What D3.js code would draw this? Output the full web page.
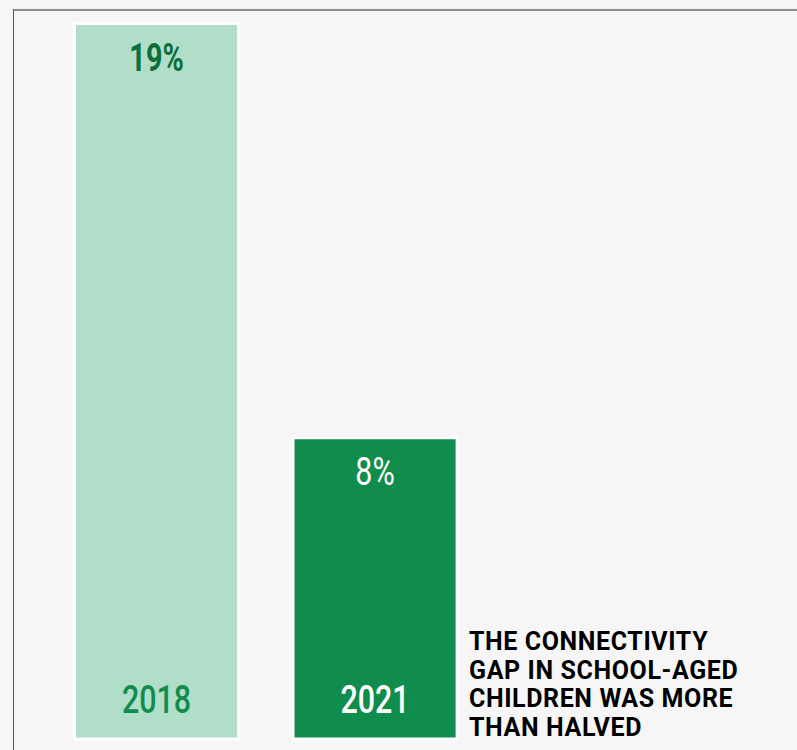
<!DOCTYPE html>
<html>
<head>
<meta charset="utf-8">
<script src="https://cdn.jsdelivr.net/npm/d3@7"></script>
<style>
  html, body { margin: 0; padding: 0; background: #f6f6f6; }
  svg { display: block; }
</style>
</head>
<body>
<svg id="chart"></svg>
<script>
const width = 797;
const height = 750;

// data
const years = ['2018', '2021'];
const gapValues = [19, 8];
const valueLabels = ['19%', '8%'];
const noteLines = ['THE CONNECTIVITY', 'GAP IN SCHOOL-AGED', 'CHILDREN WAS MORE', 'THAN HALVED'];

const barFill = ['#b1dec8', '#108c4c'];
const valueColor = ['#0e6e3b', '#ffffff'];
const yearColor = ['#118c4d', '#ffffff'];
const valueWeight = [700, 400];

const svg = d3.select('#chart')
  .attr('width', width)
  .attr('height', height);

svg.append('rect')
  .attr('width', width)
  .attr('height', height)
  .attr('fill', '#f6f6f6');

// frame lines
svg.append('line')
  .attr('x1', 13).attr('x2', width)
  .attr('y1', 10).attr('y2', 10)
  .attr('stroke', '#8f8f8f')
  .attr('stroke-width', 2);
svg.append('line')
  .attr('x1', 13.5).attr('x2', 13.5)
  .attr('y1', 9).attr('y2', height)
  .attr('stroke', '#555')
  .attr('stroke-width', 1);

const x = d3.scaleBand()
  .domain(years)
  .range([74.5, 457.1])
  .paddingInner(0.249)
  .paddingOuter(0);

const y = d3.scaleLinear()
  .domain([0, 19])
  .range([739, 23.5]);

const data = years.map((yr, i) => ({ year: yr, value: gapValues[i], label: valueLabels[i], i }));

const bars = svg.append('g').selectAll('g')
  .data(data)
  .join('g');

bars.append('rect')
  .attr('x', (d) => x(d.year))
  .attr('y', (d) => y(d.value))
  .attr('width', x.bandwidth())
  .attr('height', (d) => y(0) - y(d.value))
  .attr('fill', (d) => barFill[d.i])
  .attr('stroke', '#ffffff')
  .attr('stroke-width', 3);

// condensed look via horizontal squeeze
bars.append('text')
  .attr('transform', (d) => `translate(${x(d.year) + x.bandwidth() / 2},${y(d.value) + 47}) scale(${d.i === 0 ? 0.74 : 0.78},1)`)
  .attr('text-anchor', 'middle')
  .style('font-family', 'Roboto, sans-serif')
  .style('font-size', '39px')
  .style('font-weight', (d) => valueWeight[d.i])
  .attr('fill', (d) => valueColor[d.i])
  .text((d) => d.label);

bars.append('text')
  .attr('transform', (d) => `translate(${x(d.year) + x.bandwidth() / 2},${y(0) - 26.5}) scale(0.78,1)`)
  .attr('text-anchor', 'middle')
  .style('font-family', 'Roboto, sans-serif')
  .style('font-size', '39px')
  .style('font-weight', 500)
  .attr('fill', (d) => yearColor[d.i])
  .text((d) => d.year);

// annotation
const note = svg.append('text')
  .attr('x', 469)
  .attr('y', 650)
  .style('font-family', 'Roboto, sans-serif')
  .style('font-size', '25px')
  .style('font-weight', 700)
  .style('letter-spacing', '0.6px')
  .attr('fill', '#000');

note.selectAll('tspan')
  .data(noteLines)
  .join('tspan')
  .attr('x', 469)
  .attr('dy', (d, i) => i === 0 ? 0 : 28.7)
  .text((d) => d);
</script>
</body>
</html>
